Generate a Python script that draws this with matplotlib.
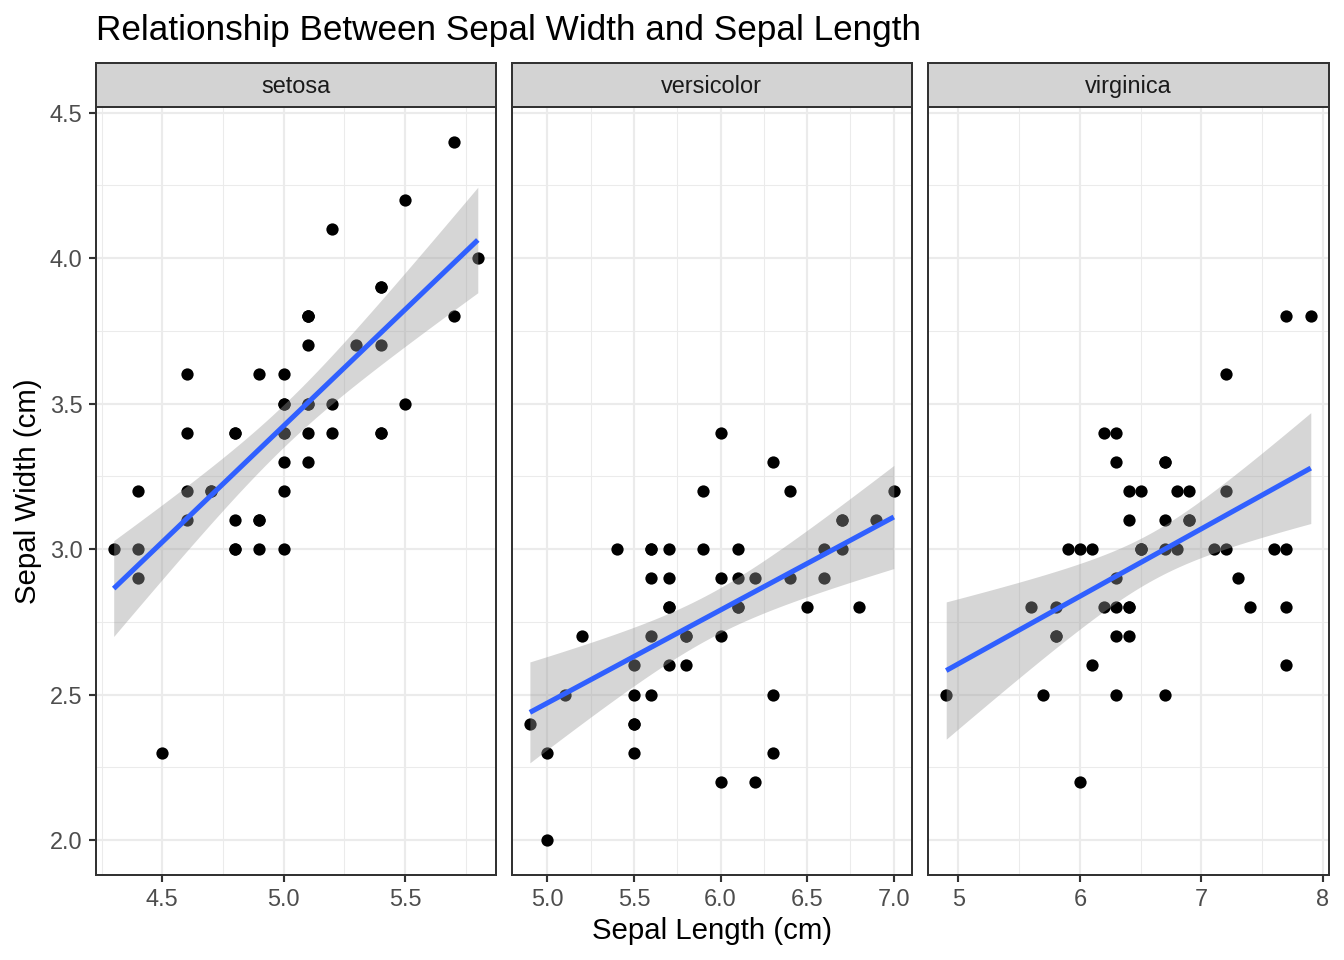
import numpy as np
import matplotlib
matplotlib.use("Agg")
import matplotlib.pyplot as plt
from matplotlib.ticker import FixedLocator, FixedFormatter

plt.rcParams['font.family'] = ['Liberation Sans', 'DejaVu Sans']

# iris data: sepal length / sepal width per species
species = ["setosa", "versicolor", "virginica"]

setosa_len = [5.1, 4.9, 4.7, 4.6, 5.0, 5.4, 4.6, 5.0, 4.4, 4.9, 5.4, 4.8, 4.8, 4.3, 5.8, 5.7, 5.4,
              5.1, 5.7, 5.1, 5.4, 5.1, 4.6, 5.1, 4.8, 5.0, 5.0, 5.2, 5.2, 4.7, 4.8, 5.4, 5.2, 5.5,
              4.9, 5.0, 5.5, 4.9, 4.4, 5.1, 5.0, 4.5, 4.4, 5.0, 5.1, 4.8, 5.1, 4.6, 5.3, 5.0]
setosa_wid = [3.5, 3.0, 3.2, 3.1, 3.6, 3.9, 3.4, 3.4, 2.9, 3.1, 3.7, 3.4, 3.0, 3.0, 4.0, 4.4, 3.9,
              3.5, 3.8, 3.8, 3.4, 3.7, 3.6, 3.3, 3.4, 3.0, 3.4, 3.5, 3.4, 3.2, 3.1, 3.4, 4.1, 4.2,
              3.1, 3.2, 3.5, 3.6, 3.0, 3.4, 3.5, 2.3, 3.2, 3.5, 3.8, 3.0, 3.8, 3.2, 3.7, 3.3]

versicolor_len = [7.0, 6.4, 6.9, 5.5, 6.5, 5.7, 6.3, 4.9, 6.6, 5.2, 5.0, 5.9, 6.0, 6.1, 5.6, 6.7, 5.6,
                  5.8, 6.2, 5.6, 5.9, 6.1, 6.3, 6.1, 6.4, 6.6, 6.8, 6.7, 6.0, 5.7, 5.5, 5.5, 5.8, 6.0,
                  5.4, 6.0, 6.7, 6.3, 5.6, 5.5, 5.5, 6.1, 5.8, 5.0, 5.6, 5.7, 5.7, 6.2, 5.1, 5.7]
versicolor_wid = [3.2, 3.2, 3.1, 2.3, 2.8, 2.8, 3.3, 2.4, 2.9, 2.7, 2.0, 3.0, 2.2, 2.9, 2.9, 3.1, 3.0,
                  2.7, 2.2, 2.5, 3.2, 2.8, 2.5, 2.8, 2.9, 3.0, 2.8, 3.0, 2.9, 2.6, 2.4, 2.4, 2.7, 2.7,
                  3.0, 3.4, 3.1, 2.3, 3.0, 2.5, 2.6, 3.0, 2.6, 2.3, 2.7, 3.0, 2.9, 2.9, 2.5, 2.8]

virginica_len = [6.3, 5.8, 7.1, 6.3, 6.5, 7.6, 4.9, 7.3, 6.7, 7.2, 6.5, 6.4, 6.8, 5.7, 5.8, 6.4, 6.5,
                 7.7, 7.7, 6.0, 6.9, 5.6, 7.7, 6.3, 6.7, 7.2, 6.2, 6.1, 6.4, 7.2, 7.4, 7.9, 6.4, 6.3,
                 6.1, 7.7, 6.3, 6.4, 6.0, 6.9, 6.7, 6.9, 5.8, 6.8, 6.7, 6.7, 6.3, 6.5, 6.2, 5.9]
virginica_wid = [3.3, 2.7, 3.0, 2.9, 3.0, 3.0, 2.5, 2.9, 2.5, 3.6, 3.2, 2.7, 3.0, 2.5, 2.8, 3.2, 3.0,
                 3.8, 2.6, 2.2, 3.2, 2.8, 2.8, 2.7, 3.3, 3.2, 2.8, 3.0, 2.8, 3.0, 2.8, 3.8, 2.8, 2.8,
                 2.6, 3.0, 3.4, 3.1, 3.0, 3.1, 3.1, 3.1, 2.7, 3.2, 3.3, 3.0, 2.5, 3.0, 3.4, 3.0]

lengths = [setosa_len, versicolor_len, virginica_len]
widths = [setosa_wid, versicolor_wid, virginica_wid]

x_major = [[4.5, 5.0, 5.5], [5.0, 5.5, 6.0, 6.5, 7.0], [5, 6, 7, 8]]
x_labels = [["4.5", "5.0", "5.5"], ["5.0", "5.5", "6.0", "6.5", "7.0"], ["5", "6", "7", "8"]]
x_minor = [[4.25, 4.75, 5.25, 5.75], [4.75, 5.25, 5.75, 6.25, 6.75], [5.5, 6.5, 7.5]]
y_major = [2.0, 2.5, 3.0, 3.5, 4.0, 4.5]
y_labels = ["2.0", "2.5", "3.0", "3.5", "4.0", "4.5"]
y_minor = [2.25, 2.75, 3.25, 3.75, 4.25]

T975 = 2.0106  # t quantile, df = 48

W, H = 1344, 960
fig = plt.figure(figsize=(7, 5), dpi=192)

panel_left = [95.5, 511.7, 928.0]
panel_right = [496.0, 912.0, 1329.0]
panel_top, panel_bot = 106.7, 875.0
strip_top = 62.7

all_w = np.concatenate([np.array(w) for w in widths])
ypad = (all_w.max() - all_w.min()) * 0.05
ylim = (all_w.min() - ypad, all_w.max() + ypad)

for i, sp in enumerate(species):
    x = np.array(lengths[i])
    y = np.array(widths[i])
    l = panel_left[i] / W
    wd = (panel_right[i] - panel_left[i]) / W
    b = 1 - panel_bot / H
    h = (panel_bot - panel_top) / H
    ax = fig.add_axes([l, b, wd, h])

    xpad = (x.max() - x.min()) * 0.05
    ax.set_xlim(x.min() - xpad, x.max() + xpad)
    ax.set_ylim(*ylim)

    # gridlines
    for v in x_minor[i]:
        ax.axvline(v, color="#EBEBEB", lw=0.4, zorder=0)
    for v in y_minor:
        ax.axhline(v, color="#EBEBEB", lw=0.4, zorder=0)
    for v in x_major[i]:
        ax.axvline(v, color="#EBEBEB", lw=0.8, zorder=0)
    for v in y_major:
        ax.axhline(v, color="#EBEBEB", lw=0.8, zorder=0)

    ax.scatter(x, y, s=4.6 ** 2, color="black", linewidths=0, zorder=2)

    # linear fit + 95% CI
    n = len(x)
    slope, icpt = np.polyfit(x, y, 1)
    resid = y - (slope * x + icpt)
    s = np.sqrt(np.sum(resid ** 2) / (n - 2))
    xs = np.linspace(x.min(), x.max(), 80)
    fit = slope * xs + icpt
    se = s * np.sqrt(1 / n + (xs - x.mean()) ** 2 / np.sum((x - x.mean()) ** 2))
    ax.fill_between(xs, fit - T975 * se, fit + T975 * se, color="#999999", alpha=0.4,
                    linewidth=0, zorder=3)
    ax.plot(xs, fit, color="#3060FF", lw=1.9, zorder=4, solid_capstyle="butt")

    ax.xaxis.set_major_locator(FixedLocator(x_major[i]))
    ax.xaxis.set_major_formatter(FixedFormatter(x_labels[i]))
    ax.yaxis.set_major_locator(FixedLocator(y_major))
    ax.tick_params(axis="both", length=2.75, width=0.8, color="#333333", pad=2.2,
                   labelsize=8.8, labelcolor="#4D4D4D")
    if i == 0:
        ax.yaxis.set_major_formatter(FixedFormatter(y_labels))
    else:
        ax.tick_params(axis="y", length=0, labelleft=False)
    for sp_ in ax.spines.values():
        sp_.set_color("#333333")
        sp_.set_linewidth(0.75)

    # strip
    sax = fig.add_axes([l, 1 - panel_top / H, wd, (panel_top - strip_top) / H])
    sax.set_facecolor("#D3D3D3")
    sax.set_xticks([])
    sax.set_yticks([])
    for sp_ in sax.spines.values():
        sp_.set_color("#333333")
        sp_.set_linewidth(0.75)
    sax.text(0.5, 0.45, sp, ha="center", va="center", fontsize=8.8, color="#1A1A1A",
             transform=sax.transAxes)

fig.text(95.5 / W, 1 - 40 / H, "Relationship Between Sepal Width and Sepal Length",
         fontsize=13.2, ha="left", va="baseline", color="black")
fig.text(712 / W, 1 - 939 / H, "Sepal Length (cm)", fontsize=11, ha="center",
         va="baseline", color="black")
fig.text(28.5 / W, 1 - 490.8 / H, "Sepal Width (cm)", fontsize=11, ha="center",
         va="center", rotation=90, color="black")

fig.savefig("out.png", dpi=192, facecolor="white")
